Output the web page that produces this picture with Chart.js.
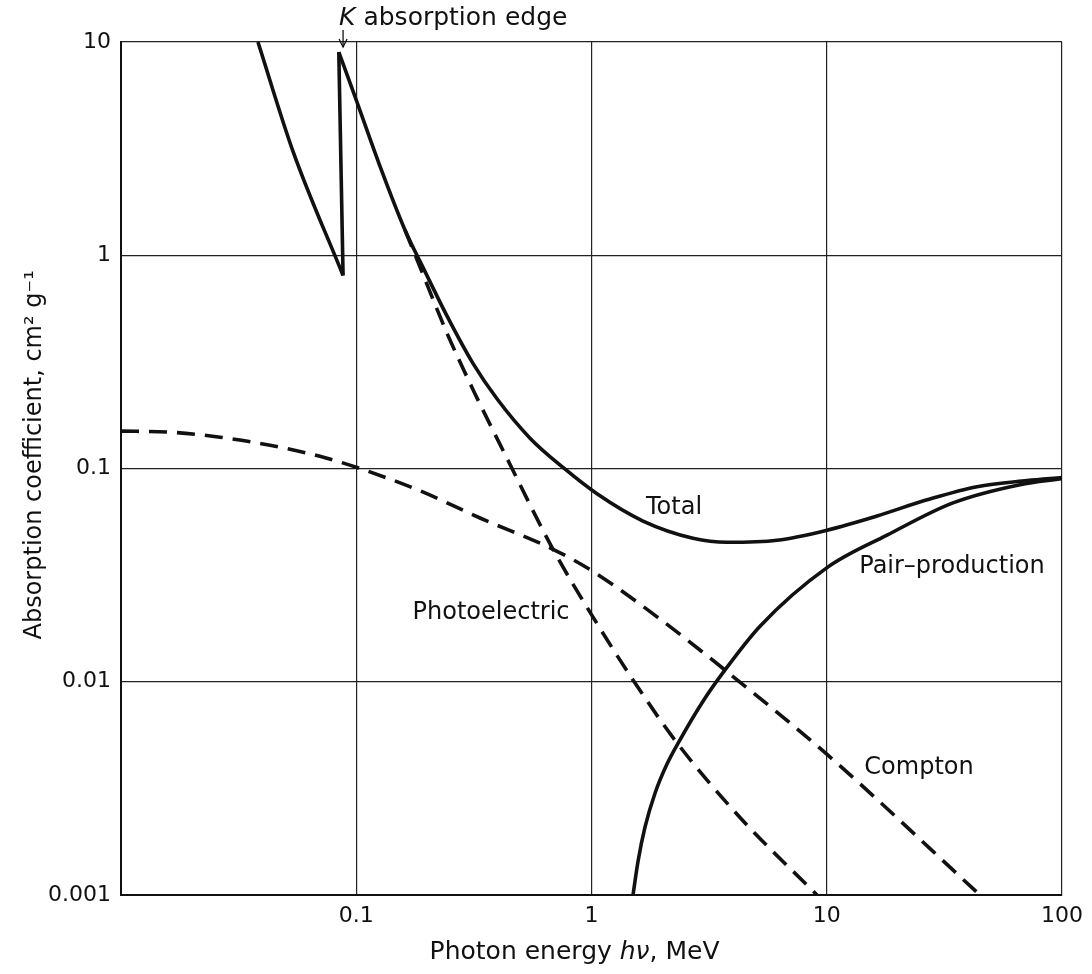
<!DOCTYPE html>
<html><head><meta charset="utf-8">
<script src="https://cdn.jsdelivr.net/npm/chart.js@4.4.1/dist/chart.umd.min.js"></script>
<style>html,body{margin:0;padding:0;background:#fff;} #wrap{width:1092px;height:974px;position:relative;}</style>
</head><body><div id="wrap"><canvas id="c"></canvas></div>
<script>
// ---- tick values and labels ----
const xTickValues = [0.1, 1, 10, 100];
const xTickLabels = ['0.1', '1', '10', '100'];
const yTickValues = [0.001, 0.01, 0.1, 1, 10];
const yTickLabels = ['0.001', '0.01', '0.1', '1', '10'];

// ---- Total (below K edge) ----
const totalLowE  = [0.0382, 0.0538, 0.0879];
const totalLowMu = [10, 3.08, 0.804];
// ---- Total (K absorption edge jump) ----
const edgeE  = [0.0879, 0.0843];
const edgeMu = [0.804, 8.97];
// ---- Total (above K edge) ----
const totalHighE  = [0.0843, 0.0988, 0.1262, 0.1611, 0.1922, 0.243, 0.3134, 0.3965, 0.5478, 0.7568, 1.055, 1.656, 2.701, 3.767, 6.145, 10.03, 16.36, 26.69, 43.5, 71.0, 100];
const totalHighMu = [8.97, 5.55, 2.613, 1.314, 0.877, 0.5195, 0.3111, 0.2123, 0.1388, 0.1011, 0.0761, 0.0567, 0.0471, 0.0451, 0.0461, 0.0514, 0.0599, 0.0713, 0.0822, 0.0877, 0.0906];
// ---- Photoelectric ----
const photoE  = [0.1611, 0.1922, 0.243, 0.3196, 0.4289, 0.6862, 1.015, 1.501, 2.309, 4.278, 9.09];
const photoMu = [1.314, 0.8128, 0.4315, 0.2243, 0.1165, 0.0418, 0.0201, 0.0102, 0.00517, 0.00231, 0.001];
// ---- Compton ----
const comptonE  = [0.01, 0.01616, 0.02635, 0.043, 0.0701, 0.1007, 0.1866, 0.3357, 0.6862, 1.015, 1.956, 3.767, 10.03, 44.8];
const comptonMu = [0.1497, 0.1481, 0.1402, 0.1285, 0.114, 0.1011, 0.0786, 0.0586, 0.0418, 0.0329, 0.01967, 0.01115, 0.00456, 0.001];
// ---- Pair production ----
const pairE  = [1.501, 1.577, 1.688, 1.862, 2.094, 2.378, 2.979, 3.622, 5.204, 10.03, 18.04, 34.4, 66.3, 100];
const pairMu = [0.001, 0.00144, 0.00208, 0.003, 0.00411, 0.00534, 0.0081, 0.01103, 0.01822, 0.0343, 0.0487, 0.069, 0.084, 0.0896];

// ---- curve labels ----
const curveLabels = ['Total', 'Pair\u2013production', 'Photoelectric', 'Compton'];
const curveLabelE  = [2.243, 34.07, 0.374, 24.67];
const curveLabelMu = [0.0653, 0.0347, 0.021, 0.00395];
const kEdgeE = 0.0879;

const pts = (xs, ys) => xs.map((v, i) => ({x: v, y: ys[i]}));

const solid = (label, data, mode) => ({
  label, data, borderColor: '#111', borderWidth: 3.6, pointRadius: 0,
  fill: false, tension: mode ? 0.4 : 0, cubicInterpolationMode: mode || 'default'
});
const dashed = (label, data) => ({
  label, data, borderColor: '#111', borderWidth: 3.6, pointRadius: 0,
  fill: false, borderDash: [18, 10], cubicInterpolationMode: 'monotone', tension: 0.4
});

const FONT = '"DejaVu Sans", "Liberation Sans", sans-serif';

const annotations = {
  id: 'annotations',
  afterDatasetsDraw(chart) {
    const {ctx, scales: {x, y}, chartArea} = chart;
    ctx.save();
    ctx.fillStyle = '#111';
    ctx.font = '24px ' + FONT;
    ctx.textAlign = 'center';
    ctx.textBaseline = 'middle';
    curveLabels.forEach((t, i) => {
      ctx.fillText(t, x.getPixelForValue(curveLabelE[i]), y.getPixelForValue(curveLabelMu[i]));
    });
    // K absorption edge label + arrow
    const kx = x.getPixelForValue(kEdgeE);
    ctx.textAlign = 'left';
    ctx.textBaseline = 'alphabetic';
    ctx.font = 'italic 25px ' + FONT;
    const kw = ctx.measureText('K').width;
    const ty = chartArea.top - 17;
    ctx.fillText('K', kx - 4, ty);
    ctx.font = '25px ' + FONT;
    ctx.fillText(' absorption edge', kx - 4 + kw, ty);
    ctx.strokeStyle = '#111';
    ctx.lineWidth = 1.3;
    ctx.beginPath();
    ctx.moveTo(kx, chartArea.top - 12);
    ctx.lineTo(kx, chartArea.top + 4);
    ctx.stroke();
    ctx.beginPath();
    ctx.moveTo(kx - 4, chartArea.top - 3);
    ctx.lineTo(kx, chartArea.top + 5);
    ctx.lineTo(kx + 4, chartArea.top - 3);
    ctx.stroke();
    // x axis title with italic h\u03bd
    const runs = [['Photon energy ', ''], ['h\u03bd', 'italic '], [', MeV', '']];
    let total = 0;
    runs.forEach(r => { ctx.font = r[1] + '25px ' + FONT; total += ctx.measureText(r[0]).width; });
    let cx = chartArea.left + chartArea.width * 0.482 - total / 2;
    ctx.textBaseline = 'middle';
    runs.forEach(r => { ctx.font = r[1] + '25px ' + FONT; ctx.fillText(r[0], cx, 952); cx += ctx.measureText(r[0]).width; });
    // y axis title
    ctx.save();
    ctx.translate(35, chartArea.top + chartArea.height * 0.484);
    ctx.rotate(-Math.PI / 2);
    ctx.textAlign = 'center';
    ctx.font = '24px ' + FONT;
    ctx.fillText('Absorption coefficient, cm\u00b2 g\u207b\u00b9', 0, 0);
    ctx.restore();
    ctx.restore();
  }
};

new Chart(document.getElementById('c'), {
  type: 'line',
  data: {
    datasets: [
      solid('Total', pts(totalLowE, totalLowMu), 'monotone'),
      solid('Total (K edge)', pts(edgeE, edgeMu), null),
      solid('Total', pts(totalHighE, totalHighMu), 'monotone'),
      dashed('Photoelectric', pts(photoE, photoMu)),
      dashed('Compton', pts(comptonE, comptonMu)),
      solid('Pair-production', pts(pairE, pairMu), 'monotone')
    ]
  },
  options: {
    responsive: true,
    maintainAspectRatio: false,
    devicePixelRatio: 1,
    animation: false,
    events: [],
    layout: {padding: {top: 42, right: 30, left: 0, bottom: 0}},
    plugins: {legend: {display: false}, tooltip: {enabled: false}},
    scales: {
      x: {
        type: 'logarithmic', min: 0.01, max: 100,
        afterFit: s => { s.height = 79; },
        afterBuildTicks: s => { s.ticks = xTickValues.map(v => ({value: v})); },
        ticks: {
          callback: (v, i) => xTickLabels[i], autoSkip: false, maxRotation: 0,
          padding: 8, color: '#111', font: {family: FONT, size: 22}
        },
        grid: {color: '#222', lineWidth: 1.2, drawTicks: false},
        border: {display: true, color: '#111', width: 2}
      },
      y: {
        type: 'logarithmic', min: 0.001, max: 10,
        afterFit: s => { s.width = 121; },
        afterBuildTicks: s => { s.ticks = yTickValues.map(v => ({value: v})); },
        ticks: {
          callback: (v, i) => yTickLabels[i], autoSkip: false,
          padding: 10, color: '#111', font: {family: FONT, size: 22}
        },
        grid: {color: '#222', lineWidth: 1.2, drawTicks: false},
        border: {display: true, color: '#111', width: 2}
      }
    }
  },
  plugins: [annotations]
});
</script>
</body></html>
